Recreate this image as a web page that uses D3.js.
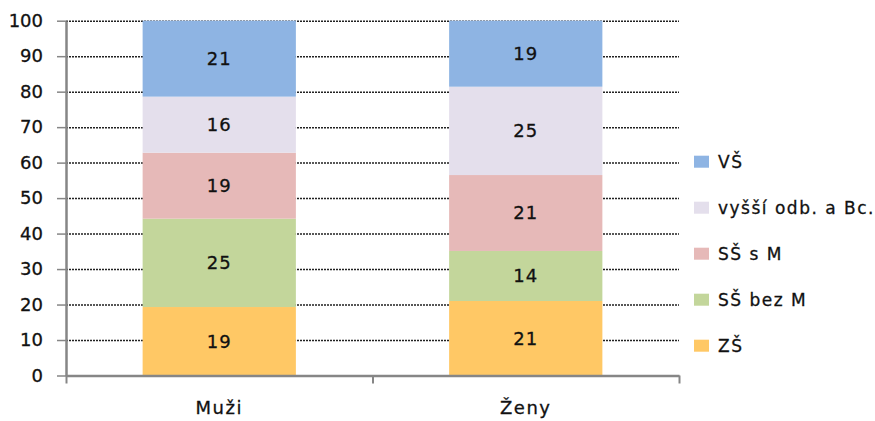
<!DOCTYPE html>
<html>
<head>
<meta charset="utf-8">
<script src="https://cdn.jsdelivr.net/npm/d3@7"></script>
<style>
  body { margin: 0; background: #fff; }
  svg text { font-family: "DejaVu Sans", sans-serif; fill: #111; stroke: #111; stroke-width: 0.3px; }
</style>
</head>
<body>
<svg id="chart"></svg>
<script>
/* données */
const categories = ['Muži', 'Ženy']
const series = ['ZŠ', 'SŠ bez M', 'SŠ s M', 'vyšší odb. a Bc.', 'VŠ']
const muzi = [19.3, 24.9, 18.6, 15.8, 21.4]
const zeny = [21.0, 14.1, 21.4, 24.9, 18.6]
const colors = ['#ffc865', '#c3d69b', '#e6b9b8', '#e4dfec', '#8eb4e3']
const yTicks = [0, 10, 20, 30, 40, 50, 60, 70, 80, 90, 100]

const width = 875, height = 421
const margin = {top: 20.7, right: 196, bottom: 45.5, left: 66}

const svg = d3.select('#chart').attr('width', width).attr('height', height)

// table pour d3.stack
const rows = categories.map((c, i) => {
    const vals = i === 0 ? muzi : zeny
    const r = {cat: c}
    series.forEach((s, j) => { r[s] = vals[j] })
    return r
})
const stacked = d3.stack().keys(series)(rows)

const xScale = d3.scaleBand()
    .domain(categories)
    .range([margin.left, width - margin.right])
    .paddingInner(0.5)
    .paddingOuter(0.25)

const yScale = d3.scaleLinear()
    .domain([0, 100])
    .range([height - margin.bottom, margin.top])

/* lignes de grille pointillées */
svg.append('g')
    .attr('class', 'grid')
    .attr('transform', 'translate(' + margin.left + ',0)')
    .call(d3.axisLeft(yScale).tickValues(yTicks.slice(1)).tickSize(-(width - margin.right - margin.left)).tickFormat(''))
    .call(g => g.select('.domain').remove())
    .selectAll('line')
    .attr('stroke', '#222')
    .attr('stroke-width', 1.5)
    .attr('stroke-dasharray', '2,1')

/* barres empilées */
stacked.forEach((layer, j) => {
    svg.append('g')
        .attr('fill', colors[j])
        .selectAll('rect')
        .data(layer)
        .enter()
        .append('rect')
        .attr('x', d => xScale(d.data.cat))
        .attr('width', xScale.bandwidth())
        .attr('y', d => yScale(d[1]))
        .attr('height', d => yScale(d[0]) - yScale(d[1]))

    svg.append('g')
        .selectAll('text')
        .data(layer)
        .enter()
        .append('text')
        .attr('x', d => xScale(d.data.cat) + xScale.bandwidth() / 2)
        .attr('y', d => (yScale(d[0]) + yScale(d[1])) / 2)
        .attr('dy', '0.36em')
        .attr('text-anchor', 'middle')
        .style('font-size', '18px')
        .style('letter-spacing', '1px')
        .text(d => Math.round(d[1] - d[0]))
})

/* axe des y */
const yAxis = svg.append('g')
    .attr('transform', 'translate(' + margin.left + ',0)')
    .call(d3.axisLeft(yScale).tickValues(yTicks).tickSize(9).tickSizeOuter(0).tickPadding(14))
yAxis.select('.domain').attr('stroke', '#868686').attr('stroke-width', 2.5)
yAxis.selectAll('.tick line').attr('stroke', '#868686').attr('stroke-width', 1.5)
yAxis.selectAll('text').style('font-size', '18px').style('font-family', '"DejaVu Sans", sans-serif').attr('fill', '#111')

/* axe des x : traits entre les catégories */
const xEdge = d3.scaleLinear().domain([0, categories.length]).range([margin.left, width - margin.right])
const xAxisTicks = svg.append('g')
    .attr('transform', 'translate(0,' + (height - margin.bottom) + ')')
    .call(d3.axisBottom(xEdge).tickValues(d3.range(categories.length + 1)).tickSize(8).tickSizeOuter(0).tickFormat(''))
xAxisTicks.select('.domain').attr('stroke', '#868686').attr('stroke-width', 2.5)
xAxisTicks.selectAll('.tick line').attr('stroke', '#868686').attr('stroke-width', 2)

/* noms des catégories */
const xAxis = svg.append('g')
    .attr('transform', 'translate(0,' + (height - margin.bottom) + ')')
    .call(d3.axisBottom(xScale).tickSize(0).tickPadding(26))
xAxis.select('.domain').remove()
xAxis.selectAll('text').style('font-size', '18px').style('font-family', '"DejaVu Sans", sans-serif')
    .style('letter-spacing', '1.5px').attr('fill', '#111')

/* légende */
const legendY = d3.scalePoint().domain(series.slice().reverse()).range([161.7, 345.7])
const legend = svg.append('g')
series.forEach((s, j) => {
    legend.append('rect')
        .attr('x', 694)
        .attr('y', legendY(s) - 6)
        .attr('width', 15)
        .attr('height', 12)
        .attr('fill', colors[j])
    legend.append('text')
        .attr('x', 718)
        .attr('y', legendY(s))
        .attr('dy', '0.36em')
        .style('font-size', '17px')
        .style('letter-spacing', '1.5px')
        .text(s)
})
</script>
</body>
</html>
